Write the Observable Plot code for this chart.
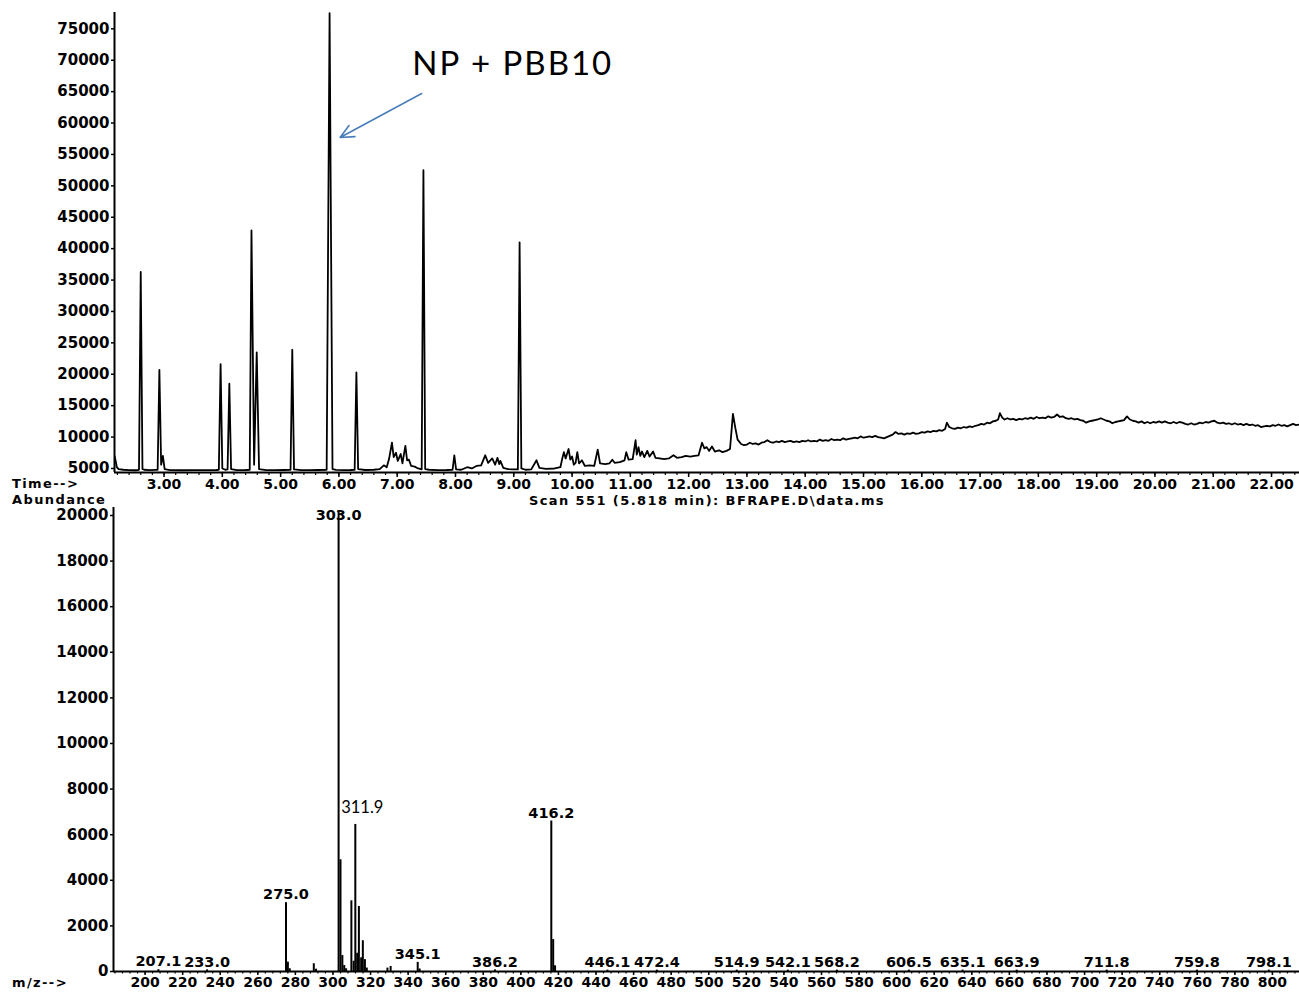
<!DOCTYPE html>
<html>
<head>
<meta charset="utf-8">
<script src="https://cdn.jsdelivr.net/npm/d3@7"></script>
<script src="https://cdn.jsdelivr.net/npm/@observablehq/plot@0.6"></script>
<style>
  body { margin: 0; background: #fff; }
  #wrap { position: relative; width: 1299px; height: 994px; overflow: hidden; background: #fff; }
  #wrap svg { position: absolute; left: 0; }
  .lbl { position: absolute; font-family: "DejaVu Sans", sans-serif; font-weight: bold; font-size: 13px; line-height: 12px; color: #000; white-space: nowrap; letter-spacing: 1.4px; }
</style>
</head>
<body>
<div id="wrap">
  <div class="lbl" style="left:12px; top:478px;">Time--&gt;</div>
  <div class="lbl" style="left:12px; top:494px;">Abundance</div>
  <div class="lbl" style="left:707px; top:495px; transform:translateX(-50%);">Scan 551 (5.818 min): BFRAPE.D\data.ms</div>
  <div class="lbl" style="left:12px; top:977px;">m/z--&gt;</div>
</div>
<script>
// ---------- Total ion chromatogram (time in min, abundance) ----------
const chromPoints = [
  [2.15,7000],[2.17,6200],[2.19,5200],[2.22,4900],[2.30,4800],[2.40,4750],[2.50,4720],[2.56,4760],
  [2.57,4800],[2.60,36300],[2.63,4900],[2.66,4800],[2.75,4750],[2.85,4780],[2.89,4800],[2.92,20700],
  [2.95,5600],[2.98,7000],[3.01,4900],[3.10,4750],[3.30,4720],[3.50,4750],[3.70,4730],[3.90,4760],
  [3.94,4800],[3.97,21600],[4.00,5000],[4.05,4800],[4.09,4850],[4.12,18500],[4.15,4900],[4.25,4750],
  [4.40,4760],[4.47,4800],[4.50,42900],[4.545,5600],[4.59,23500],[4.63,4900],[4.75,4750],[4.90,4740],
  [5.05,4760],[5.17,4800],[5.20,23900],[5.23,4850],[5.35,4750],[5.50,4740],[5.65,4760],[5.79,4800],
  [5.84,77500],[5.89,4900],[5.95,4780],[6.10,4750],[6.20,4760],[6.27,4800],[6.30,20300],[6.33,4900],
  [6.45,4760],[6.60,4800],[6.70,4900],[6.77,5500],[6.82,5200],[6.86,6500],[6.91,9100],[6.94,6800],
  [6.98,7500],[7.01,6200],[7.06,7300],[7.09,5800],[7.14,8600],[7.17,6300],[7.20,6400],[7.24,5400],
  [7.30,5300],[7.36,5000],[7.42,4850],[7.45,52500],[7.48,4900],[7.55,4800],[7.70,4750],[7.85,4760],
  [7.95,4800],[7.98,7100],[8.01,4850],[8.10,4800],[8.20,5200],[8.28,5000],[8.36,5400],[8.44,5500],
  [8.51,7100],[8.56,5900],[8.63,6600],[8.68,5600],[8.72,6700],[8.75,5700],[8.77,6200],[8.82,5100],
  [8.90,4900],[9.00,4850],[9.07,4850],[9.10,41000],[9.13,5000],[9.20,4800],[9.30,4850],[9.39,6300],
  [9.44,5100],[9.55,4950],[9.70,5000],[9.80,5200],[9.83,6500],[9.86,7600],[9.89,6600],[9.94,8100],
  [9.97,6400],[10.00,6900],[10.03,5600],[10.06,5900],[10.09,7600],[10.12,5800],[10.17,6300],[10.22,5400],
  [10.30,5500],[10.38,5400],[10.44,8000],[10.48,5800],[10.57,5700],[10.64,5800],[10.69,6400],[10.73,5900],
  [10.82,6000],[10.90,6300],[10.93,7600],[10.97,6400],[11.04,6500],[11.09,9500],[11.11,7200],[11.14,8400],
  [11.17,7000],[11.20,7700],[11.24,6800],[11.29,7800],[11.33,6900],[11.39,7700],[11.43,6700],[11.50,6600],
  [11.58,6500],[11.66,6600],[11.74,7100],[11.80,6700],[11.88,6800],[11.95,7000],[12.03,6900],[12.10,7000],
  [12.17,7100],[12.23,9100],[12.27,8200],[12.31,8400],[12.35,7800],[12.40,8500],[12.45,7700],[12.52,7900],
  [12.58,7600],[12.65,7800],[12.71,8100],[12.76,13700],[12.80,11500],[12.84,9600],[12.90,8900],[12.95,8700],
  [13.00,8800],[13.05,9100],[13.10,8900],[13.15,9000],[13.20,8800],[13.25,9100],[13.30,9200],[13.35,9500],
  [13.40,9200],[13.45,9100],[13.50,9300],[13.55,9200],[13.60,9400],[13.65,9200],[13.70,9300],[13.75,9400],
  [13.80,9200],[13.85,9300],[13.90,9200],[13.95,9400],[14.00,9300],[14.05,9500],[14.10,9300],[14.15,9400],
  [14.20,9300],[14.25,9600],[14.30,9400],[14.35,9500],[14.40,9400],[14.45,9700],[14.50,9500],[14.55,9600],
  [14.60,9500],[14.65,9800],[14.70,9600],[14.75,9700],[14.80,9800],[14.85,9900],[14.90,9800],[14.95,10100],
  [15.00,9900],[15.05,10000],[15.10,10100],[15.15,10000],[15.20,10200],[15.25,10000],[15.30,9900],[15.35,9800],
  [15.40,10000],[15.45,10200],[15.50,10400],[15.55,10800],[15.60,10500],[15.65,10600],[15.70,10400],[15.75,10600],
  [15.80,10500],[15.85,10700],[15.90,10500],[15.95,10600],[16.00,10800],[16.05,10700],[16.10,10900],[16.15,10800],
  [16.20,11000],[16.25,10900],[16.30,11100],[16.35,11000],[16.40,11300],[16.43,12300],[16.47,11600],[16.52,11400],
  [16.57,11300],[16.62,11500],[16.67,11400],[16.72,11600],[16.77,11500],[16.82,11700],[16.87,11600],[16.92,11800],
  [16.97,11900],[17.02,12100],[17.07,12000],[17.12,12300],[17.17,12200],[17.22,12500],[17.27,12600],[17.31,12800],
  [17.34,13800],[17.38,13100],[17.42,12800],[17.47,13000],[17.52,12800],[17.57,12900],[17.62,12700],[17.67,12900],
  [17.72,12800],[17.77,13000],[17.82,12900],[17.87,13100],[17.92,12900],[17.97,13200],[18.02,13000],[18.07,13100],
  [18.12,13000],[18.17,13300],[18.22,13100],[18.27,13200],[18.32,13600],[18.37,13200],[18.42,13300],[18.47,13000],
  [18.52,12900],[18.57,13000],[18.62,12800],[18.67,12900],[18.72,12700],[18.77,12600],[18.82,12300],[18.87,12500],
  [18.92,12600],[18.97,12700],[19.02,12800],[19.07,13000],[19.12,12800],[19.17,12600],[19.22,12500],[19.27,12200],
  [19.32,12400],[19.37,12500],[19.42,12600],[19.47,12700],[19.52,13300],[19.57,12800],[19.62,12600],[19.67,12500],
  [19.72,12300],[19.77,12500],[19.82,12200],[19.87,12400],[19.92,12200],[19.97,12400],[20.02,12300],[20.07,12500],
  [20.12,12300],[20.17,12500],[20.22,12300],[20.27,12200],[20.32,12400],[20.37,12200],[20.42,12400],[20.47,12300],
  [20.52,12100],[20.57,12000],[20.62,12200],[20.67,12000],[20.72,12100],[20.77,12300],[20.82,12200],[20.87,12400],
  [20.92,12300],[20.97,12500],[21.02,12600],[21.07,12300],[21.12,12200],[21.17,12300],[21.22,12100],[21.27,12200],
  [21.32,12000],[21.37,12200],[21.42,12000],[21.47,12100],[21.52,11900],[21.57,12100],[21.62,11900],[21.67,12000],
  [21.72,11800],[21.77,11900],[21.82,11600],[21.87,11700],[21.92,11800],[21.97,11700],[22.02,11900],[22.07,11800],
  [22.12,12000],[22.17,11800],[22.22,11900],[22.27,11700],[22.32,11900],[22.37,12100],[22.42,11900],[22.48,12000]
];
const timeTicks = [3,4,5,6,7,8,9,10,11,12,13,14,15,16,17,18,19,20,21,22];
const abundTicks = [5000,10000,15000,20000,25000,30000,35000,40000,45000,50000,55000,60000,65000,70000,75000];
const timeDomain = [2.15, 22.48];
const abundDomain = [4360, 77600];
// annotation (in data units: min, abundance)
const annoText = ["NP + PBB10"];
const annoTextPos = [[7.26, 69300]];
const annoArrow = [[7.42, 64700, 6.02, 57700]];

// ---------- Mass spectrum at scan 551 (m/z, abundance) ----------
const specMz =  [207.1, 233.0, 275.0, 276.0, 277.0, 289.8, 291.0, 303.0, 304.0, 305.0, 306.0, 307.0,
                 309.8, 311.0, 311.9, 312.9, 313.8, 315.0, 315.9, 317.0, 318.0, 329.0, 330.7, 345.1, 346.1,
                 386.2, 416.2, 417.2, 418.2, 446.1, 472.4, 514.9, 542.1, 568.2, 606.5, 635.1, 663.9, 711.8, 759.8, 798.1];
const specAb =  [80, 70, 3020, 410, 120, 340, 100, 20200, 4900, 700, 260, 120,
                 3100, 450, 6450, 800, 2850, 600, 1350, 520, 150, 150, 220, 400, 110,
                 70, 6600, 1400, 250, 60, 60, 60, 60, 60, 60, 60, 60, 60, 60, 60];
const peakLabelText = ["207.1","233.0","275.0","303.0","345.1","386.2","416.2","446.1","472.4","514.9","542.1","568.2","606.5","635.1","663.9","711.8","759.8","798.1"];
const peakLabelMz   = [207.1, 233.0, 275.0, 303.0, 345.1, 386.2, 416.2, 446.1, 472.4, 514.9, 542.1, 568.2, 606.5, 635.1, 663.9, 711.8, 759.8, 798.1];
const peakLabelAb   = [80, 70, 3020, 19650, 400, 70, 6600, 60, 60, 60, 60, 60, 60, 60, 60, 60, 60, 60];
const bigLabel = [{mz: 311.9, ab: 6450, text: "311.9"}];
const mzTicks = d3.range(200, 801, 20);
const specTicks = [0,2000,4000,6000,8000,10000,12000,14000,16000,18000,20000];
const mzDomain = [183.2, 814.4];
const specDomain = [0, 20350];

(function () {
  const chrom = chromPoints.map(([t, v]) => ({t, v}));
  const spec = specMz.map((mz, i) => ({mz, ab: specAb[i]}));
  const labels = peakLabelText.map((text, i) => ({text, mz: peakLabelMz[i], ab: peakLabelAb[i]}));
  const anno = annoText.map((text, i) => ({text, t: annoTextPos[i][0], v: annoTextPos[i][1]}));
  const arrows = annoArrow.map(([t1, v1, t2, v2]) => ({t1, v1, t2, v2}));
  const timeMinor = d3.range(2.2, 22.45, 0.2).map(d => +d.toFixed(2));
  const mzMinor = d3.range(184, 814, 4);

  const baseStyle = {fontFamily: "DejaVu Sans, sans-serif", fontWeight: "bold", fontSize: "14px", background: "white", color: "black", overflow: "visible"};

  const chartTop = Plot.plot({
    width: 1299, height: 497,
    marginLeft: 114, marginRight: 0, marginTop: 12, marginBottom: 25,
    style: baseStyle,
    x: {domain: timeDomain},
    y: {domain: abundDomain},
    marks: [
      Plot.line(chrom, {x: "t", y: "v", stroke: "black", strokeWidth: 1.8, clip: true}),
      Plot.ruleX([timeDomain[0]], {stroke: "black", strokeWidth: 2}),
      Plot.ruleY([abundDomain[0]], {stroke: "black", strokeWidth: 2}),
      Plot.axisY({ticks: abundTicks, tickSize: 3, tickPadding: 2, tickFormat: d3.format("d"), label: null, fontSize: 15, strokeWidth: 1.5}),
      Plot.axisX({ticks: timeTicks, tickSize: 5, tickPadding: 2, tickFormat: d3.format(".2f"), label: null, strokeWidth: 1.5}),
      Plot.axisX({ticks: timeMinor, tickSize: 3, tickFormat: () => "", label: null, strokeWidth: 1.2}),
      Plot.arrow(arrows, {x1: "t1", y1: "v1", x2: "t2", y2: "v2", stroke: "#4a7ebb", strokeWidth: 1.6, headLength: 14, headAngle: 50}),
      Plot.text(anno, {x: "t", y: "v", text: "text", textAnchor: "start", fontFamily: "Lato, sans-serif", fontWeight: "normal", fontSize: 33, fill: "black"})
    ]
  });
  chartTop.style.top = "0px";

  const chartBottom = Plot.plot({
    width: 1299, height: 497,
    marginLeft: 113, marginRight: 0, marginTop: 10, marginBottom: 23,
    style: baseStyle,
    x: {domain: mzDomain},
    y: {domain: specDomain},
    marks: [
      Plot.ruleX(spec, {x: "mz", y1: 0, y2: "ab", stroke: "black", strokeWidth: 2}),
      Plot.ruleX([mzDomain[0]], {stroke: "black", strokeWidth: 2}),
      Plot.ruleY([0], {stroke: "black", strokeWidth: 2}),
      Plot.axisY({ticks: specTicks, tickSize: 3, tickPadding: 2, tickFormat: d3.format("d"), label: null, fontSize: 15, strokeWidth: 1.5}),
      Plot.axisX({ticks: mzTicks, tickSize: 4, tickPadding: 2, tickFormat: d3.format("d"), label: null, strokeWidth: 1.5}),
      Plot.axisX({ticks: mzMinor, tickSize: 2.5, tickFormat: () => "", label: null, strokeWidth: 1.2}),
      Plot.text(labels, {x: "mz", y: "ab", text: "text", dy: -8, fontSize: 14.5, fill: "black"}),
      Plot.text(bigLabel, {x: "mz", y: "ab", text: "text", dx: 7, dy: -17, fontFamily: "Lato, sans-serif", fontWeight: "normal", fontSize: 16.5, fill: "black"})
    ]
  });
  chartBottom.style.top = "497px";

  const wrap = document.getElementById("wrap");
  wrap.insertBefore(chartBottom, wrap.firstChild);
  wrap.insertBefore(chartTop, wrap.firstChild);
  chartTop.querySelectorAll("text").forEach(t => { if (t.textContent === annoText[0]) t.setAttribute("letter-spacing", "2"); });
})();
</script>
</body>
</html>
